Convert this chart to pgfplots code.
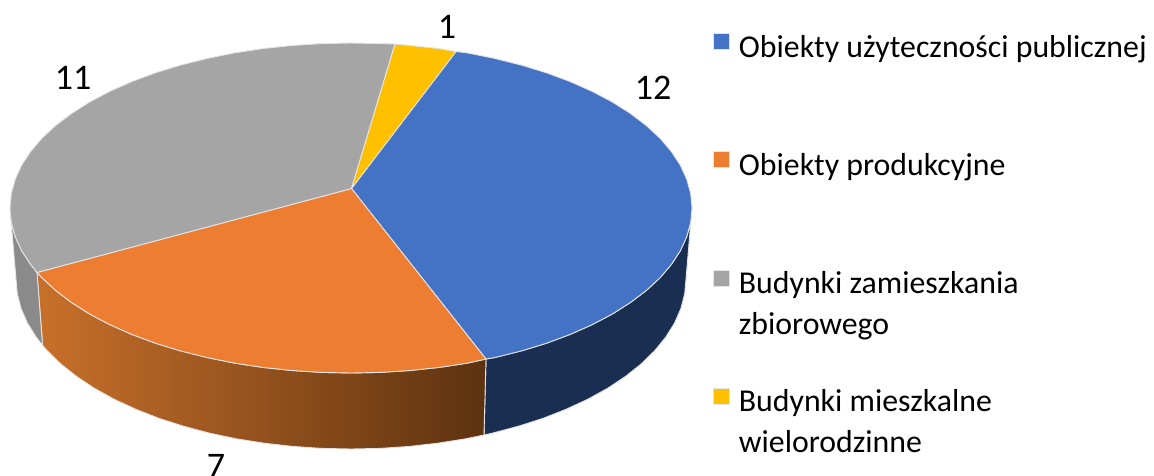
\documentclass[border=0pt]{standalone}
\usepackage{pgfplots}
\pgfplotsset{compat=1.18}
\usepackage{fontspec}
\setmainfont{Carlito}
\definecolor{cblue}{HTML}{4472C4}
\definecolor{corange}{HTML}{ED7D31}
\definecolor{cgray}{HTML}{A5A5A5}
\definecolor{cyellow}{HTML}{FFC000}
\definecolor{edge}{HTML}{E4E4E4}
\newcommand{\entry}[1]{\parbox[t]{420pt}{\raggedright\fontsize{31.8}{41}\selectfont #1}}
\begin{document}
\begin{tikzpicture}
\begin{axis}[
  scale only axis,
  width=1154pt,
  height=475pt,
  xmin=0, xmax=1154,
  ymin=0, ymax=475,
  y dir=reverse,
  hide axis,
  clip=false,
  area legend,
  legend image code/.code={\fill[#1] (0pt,-3pt) rectangle (16pt,13pt);},
  legend cell align=left,
  legend style={
    at={(axis cs:713,33)}, anchor=north west,
    draw=none, fill=none, inner sep=0pt, outer sep=0pt,
    row sep=90.5pt,
    /tikz/every odd column/.append style={column sep=7pt},
  },
  every axis plot/.append style={line width=0.9pt, draw=edge, line join=round},
]
% side walls
\addplot[forget plot, fill=black!100, fill={rgb,255:red,26;green,46;blue,82}] coordinates {
(692,208) (690.7,222.4) (686.8,236.6) (680.4,250.7) (671.4,264.4) (660.1,277.7) (646.3,290.5) (630.3,302.6) (612.2,314.1) (592.1,324.7) (570.2,334.4) (546.6,343.2) (521.5,350.9) (495.1,357.5) (486,359)
(484,435) (492.6,433.1) (518.5,426.2) (543.2,418.3) (566.3,409.2) (587.9,399.2) (607.6,388.3) (625.4,376.5) (641.1,364) (654.6,350.8) (665.8,337.1) (674.6,323) (680.9,308.5) (684.7,293.8) (686,279) (692,208)};
\addplot[forget plot, left color={rgb,255:red,200;green,112;blue,42}, right color={rgb,255:red,93;green,50;blue,16}] coordinates {
(486,359) (467.6,363.1) (439.3,367.4) (410.2,370.5) (380.7,372.4) (351,373) (321.3,372.4) (291.8,370.5) (262.7,367.4) (234.4,363.1) (206.9,357.5) (180.5,350.9) (155.4,343.2) (131.8,334.4) (109.9,324.7) (89.8,314.1) (71.7,302.6) (55.7,290.5) (41.9,277.7) (37,272.5)
(42.6,345.4) (47.4,350.8) (60.9,364) (76.6,376.5) (94.4,388.3) (114.1,399.2) (135.7,409.2) (158.8,418.3) (183.5,426.2) (209.4,433.1) (236.4,438.8) (264.3,443.2) (292.8,446.4) (321.8,448.4) (351,449) (380.2,448.4) (409.2,446.4) (437.7,443.2) (465.6,438.8) (484,435) (486,359)};
\addplot[forget plot, fill={rgb,255:red,138;green,138;blue,138}] coordinates {
(37,272.5) (30.6,264.4) (21.6,250.7) (15.2,236.6) (11.3,222.4) (10,208)
(16,279) (17.3,293.8) (21.1,308.5) (27.4,323) (36.2,337.1) (42.6,345.4) (37,272.5)};
% top faces
\addplot[fill=cblue] coordinates {
(351.5,188.5) (456,51.5) (467.6,52.9) (495.1,58.5) (521.5,65.1) (546.6,72.8) (570.2,81.6) (592.1,91.3) (612.2,101.9) (630.3,113.4) (646.3,125.5) (660.1,138.3) (671.4,151.6) (680.4,165.3) (686.8,179.4) (690.7,193.6) (692,208) (690.7,222.4) (686.8,236.6) (680.4,250.7) (671.4,264.4) (660.1,277.7) (646.3,290.5) (630.3,302.6) (612.2,314.1) (592.1,324.7) (570.2,334.4) (546.6,343.2) (521.5,350.9) (495.1,357.5) (486,359) (351.5,188.5)};
\addlegendentry{\entry{Obiekty użyteczności publicznej}}
\addplot[fill=corange] coordinates {
(351.5,188.5) (486,359) (467.6,363.1) (439.3,367.4) (410.2,370.5) (380.7,372.4) (351,373) (321.3,372.4) (291.8,370.5) (262.7,367.4) (234.4,363.1) (206.9,357.5) (180.5,350.9) (155.4,343.2) (131.8,334.4) (109.9,324.7) (89.8,314.1) (71.7,302.6) (55.7,290.5) (41.9,277.7) (37,272.5) (351.5,188.5)};
\addlegendentry{\entry{Obiekty produkcyjne}}
\addplot[fill=cgray] coordinates {
(351.5,188.5) (37,272.5) (30.6,264.4) (21.6,250.7) (15.2,236.6) (11.3,222.4) (10,208) (11.3,193.6) (15.2,179.4) (21.6,165.3) (30.6,151.6) (41.9,138.3) (55.7,125.5) (71.7,113.4) (89.8,101.9) (109.9,91.3) (131.8,81.6) (155.4,72.8) (180.5,65.1) (206.9,58.5) (234.4,52.9) (262.7,48.6) (291.8,45.5) (321.3,43.6) (351,43) (380.7,43.6) (395,44) (351.5,188.5)};
\addlegendentry{\entry{Budynki zamieszkania\\zbiorowego}}
\addplot[fill=cyellow] coordinates {
(351.5,188.5) (395,44) (410.2,45.5) (439.3,48.6) (456,51.5) (351.5,188.5)};
\addlegendentry{\entry{Budynki mieszkalne\\wielorodzinne}}
% data labels
\node[font=\fontsize{36}{40}\selectfont] at (axis cs:653,88) {12};
\node[font=\fontsize{36}{40}\selectfont] at (axis cs:216,466) {7};
\node[font=\fontsize{36}{40}\selectfont] at (axis cs:73,78) {11};
\node[font=\fontsize{36}{40}\selectfont] at (axis cs:447,27) {1};
\end{axis}
\pgfresetboundingbox
\useasboundingbox (0,0) rectangle (1154pt,475pt);
\end{tikzpicture}
\end{document}
